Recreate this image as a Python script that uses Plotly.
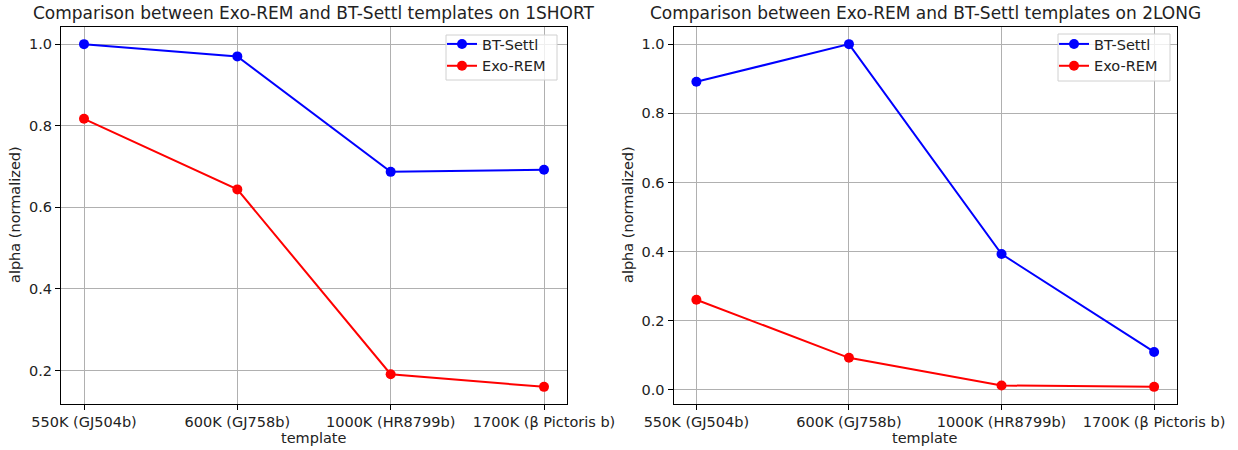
import plotly.graph_objects as go

templates = ["550K (GJ504b)", "600K (GJ758b)", "1000K (HR8799b)", "1700K (β Pictoris b)"]
short_bt_settl = [1.0, 0.970, 0.687, 0.692]
short_exo_rem = [0.817, 0.644, 0.191, 0.160]
long_bt_settl = [0.891, 1.0, 0.393, 0.110]
long_exo_rem = [0.261, 0.093, 0.013, 0.009]

titles = ["Comparison between Exo-REM and BT-Settl templates on 1SHORT",
          "Comparison between Exo-REM and BT-Settl templates on 2LONG"]

W, H = 1238, 450
# plot area edges in screen (reference) pixels
SX0, SX1, SY0, SY1 = 61, 1177, 27, 404
L = SX0
T = SY0
R = W - SX1
B = H - SY1
PW, PH = SX1 - SX0, SY1 - SY0
FONT = "DejaVu Sans"
TXT = "#222222"
xpos = list(range(len(templates)))


def px(x):
    return (x - SX0) / PW


def py(y):
    return (SY1 - y) / PH


fig = go.Figure()


def add_series(vals, name, color, xa, ya, legend):
    fig.add_trace(go.Scatter(
        x=xpos, y=vals, name=name, mode="lines+markers",
        line=dict(color=color, width=2), marker=dict(color=color, size=10),
        xaxis=xa, yaxis=ya, legend=legend, showlegend=True))


add_series(short_bt_settl, "BT-Settl", "#0000ff", "x", "y", "legend")
add_series(short_exo_rem, "Exo-REM", "#ff0000", "x", "y", "legend")
add_series(long_bt_settl, "BT-Settl", "#0000ff", "x2", "y2", "legend2")
add_series(long_exo_rem, "Exo-REM", "#ff0000", "x2", "y2", "legend2")


def pad_range(vals):
    lo, hi = min(vals), max(vals)
    m = (hi - lo) * 0.05
    return [lo - m, hi + m]


dom1 = [px(61), px(567)]
dom2 = [px(673.5), px(1177)]

axis_common = dict(
    showline=True, linecolor="black", linewidth=1, mirror=True,
    showgrid=True, gridcolor="#b0b0b0", gridwidth=1,
    ticks="outside", ticklen=5, tickcolor="black", tickwidth=1,
    zeroline=False, automargin=False,
    tickfont=dict(family=FONT, size=14.5, color=TXT),
)

xcommon = dict(axis_common, tickmode="array", tickvals=xpos, ticktext=templates,
               range=[-0.15, 3.15])
ycommon = dict(axis_common, tickformat=".1f", dtick=0.2)

legend_common = dict(xanchor="left", yanchor="top",
                     bgcolor="rgba(0,0,0,0)", borderwidth=0,
                     font=dict(family=FONT, size=14.5, color=TXT), tracegroupgap=0,
                     itemwidth=30)

ann = []
for title, dom in zip(titles, [dom1, dom2]):
    cx = (dom[0] + dom[1]) / 2
    ann.append(dict(text=title, x=cx, y=py(13), xref="paper", yref="paper",
                    xanchor="center", yanchor="middle", showarrow=False,
                    font=dict(family=FONT, size=17, color=TXT)))
    ann.append(dict(text="template", x=cx, y=py(438), xref="paper", yref="paper",
                    xanchor="center", yanchor="middle", showarrow=False,
                    font=dict(family=FONT, size=14.5, color=TXT)))
for xlab in [15, 628]:
    ann.append(dict(text="alpha (normalized)", x=px(xlab), y=py(215), xref="paper", yref="paper",
                    xanchor="center", yanchor="middle", showarrow=False, textangle=-90,
                    font=dict(family=FONT, size=14.5, color=TXT)))

shapes = []
for (x0, x1, y0, y1) in [(446, 557, 35, 80), (1058, 1170, 34, 81)]:
    shapes.append(dict(type="rect", xref="paper", yref="paper",
                       x0=px(x0), x1=px(x1), y0=py(y1), y1=py(y0),
                       line=dict(color="#d0d0d0", width=1),
                       fillcolor="rgba(255,255,255,0.8)", layer="above"))

fig.update_layout(
    width=W, height=H, margin=dict(l=L, r=R, t=T, b=B, autoexpand=False),
    paper_bgcolor="white", plot_bgcolor="white",
    font=dict(family=FONT, size=14.5, color=TXT),
    xaxis=dict(xcommon, domain=dom1, anchor="y"),
    yaxis=dict(ycommon, domain=[0, 1], anchor="x", range=pad_range(short_bt_settl + short_exo_rem), tick0=0.2),
    xaxis2=dict(xcommon, domain=dom2, anchor="y2"),
    yaxis2=dict(ycommon, domain=[0, 1], anchor="x2", range=pad_range(long_bt_settl + long_exo_rem), tick0=0.0),
    legend=dict(legend_common, x=px(442), y=py(28)),
    legend2=dict(legend_common, x=px(1054), y=py(28)),
    annotations=ann,
    shapes=shapes,
)

fig.write_html("out.html", config={"displayModeBar": False},
               post_script="document.body.style.margin='0';")
